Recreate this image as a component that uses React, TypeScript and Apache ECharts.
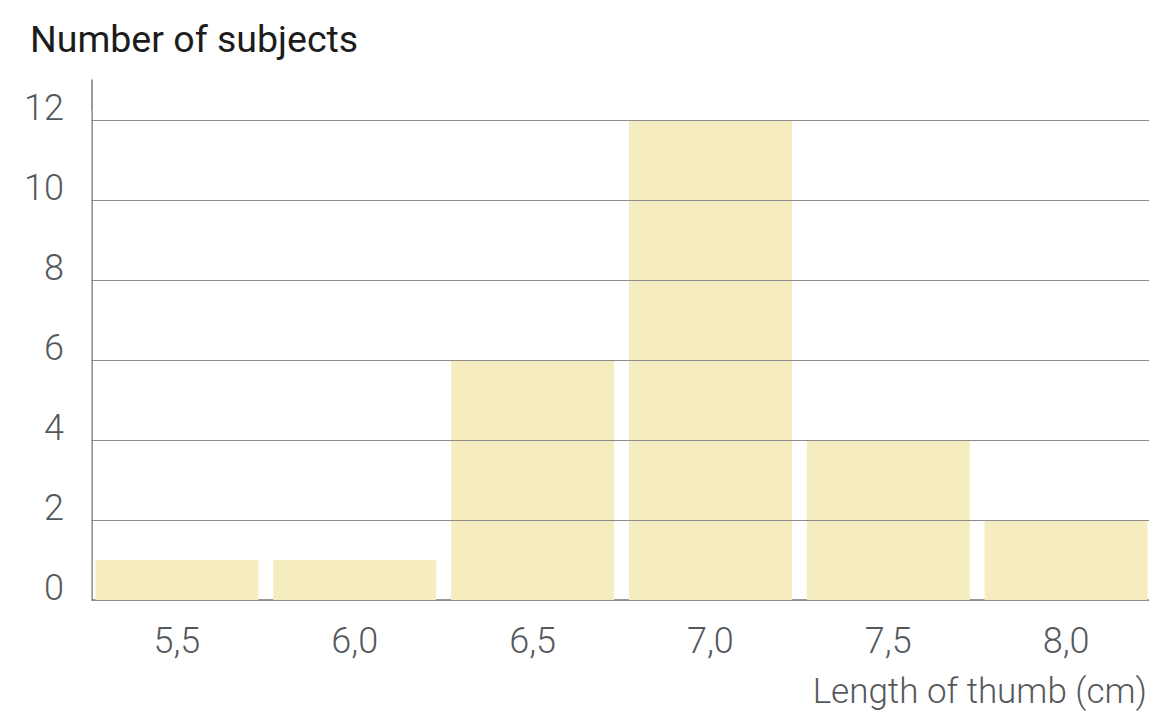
import React, { useEffect, useRef } from "react";
import * as echarts from "echarts";

const categories = ["5,5", "6,0", "6,5", "7,0", "7,5", "8,0"];
const subjects = [1, 1, 6, 12, 4, 2];
const yTicksMax = 13;
const yInterval = 2;
const yTitle = "Number of subjects";
const xTitle = "Length of thumb (cm)";

const FONT = "Roboto";

export default function App() {
  const ref = useRef<HTMLDivElement>(null);
  useEffect(() => {
    if (!ref.current) return;
    const chart = echarts.init(ref.current, null, { renderer: "svg" });
    chart.setOption({
      animation: false,
      backgroundColor: "#ffffff",
      title: [
        {
          text: yTitle,
          left: 30,
          top: 20,
          padding: 0,
          textStyle: {
            fontFamily: FONT,
            fontSize: 37.5,
            fontWeight: 400,
            color: "#1c1c1c",
            lineHeight: 37,
          },
        },
        {
          text: xTitle,
          right: 13,
          top: 674,
          padding: 0,
          textStyle: {
            fontFamily: FONT,
            fontSize: 35,
            fontWeight: 300,
            color: "#55595e",
            lineHeight: 35,
          },
        },
      ],
      grid: { left: 88, top: 80, width: 1067, height: 520, containLabel: false },
      xAxis: {
        type: "category",
        data: categories,
        boundaryGap: true,
        axisTick: { show: false },
        axisLine: { show: true, lineStyle: { color: "#777777", width: 1.5 } },
        axisLabel: {
          margin: 23,
          fontFamily: FONT,
          fontSize: 36,
          fontWeight: 300,
          color: "#55595e",
          lineHeight: 36,
          verticalAlign: "top",
        },
        splitLine: { show: false },
      },
      yAxis: {
        type: "value",
        min: 0,
        max: yTicksMax,
        interval: yInterval,
        offset: -4,
        z: 3,
        axisTick: { show: false },
        axisLine: { show: true, lineStyle: { color: "#777777", width: 1.5 } },
        axisLabel: {
          margin: 28,
          showMaxLabel: false,
          formatter: (v: number) => (v === yTicksMax ? "" : String(v)),
          fontFamily: FONT,
          fontSize: 36,
          fontWeight: 300,
          color: "#55595e",
          lineHeight: 24,
          verticalAlign: "bottom",
        },
        splitLine: {
          show: true,
          showMaxLine: false,
          lineStyle: { color: "#8c8c8c", width: 1 },
        },
      },
      graphic: [
        {
          type: "rect",
          z: 100,
          shape: { x: 84, y: 110, width: 7.3, height: 494 },
          style: { fill: "#ffffff" },
          silent: true,
        },
      ],
      series: [
        {
          type: "bar",
          data: subjects,
          barWidth: 163,
          itemStyle: { color: "#f5edbf" },
          z: 2,
        },
      ],
    });
    return () => chart.dispose();
  }, []);
  return (
    <div style={{ position: "fixed", left: 0, top: 0, width: 1149, height: 712, overflow: "hidden" }}>
      <div ref={ref} style={{ width: 1160, height: 712 }} />
    </div>
  );
}
